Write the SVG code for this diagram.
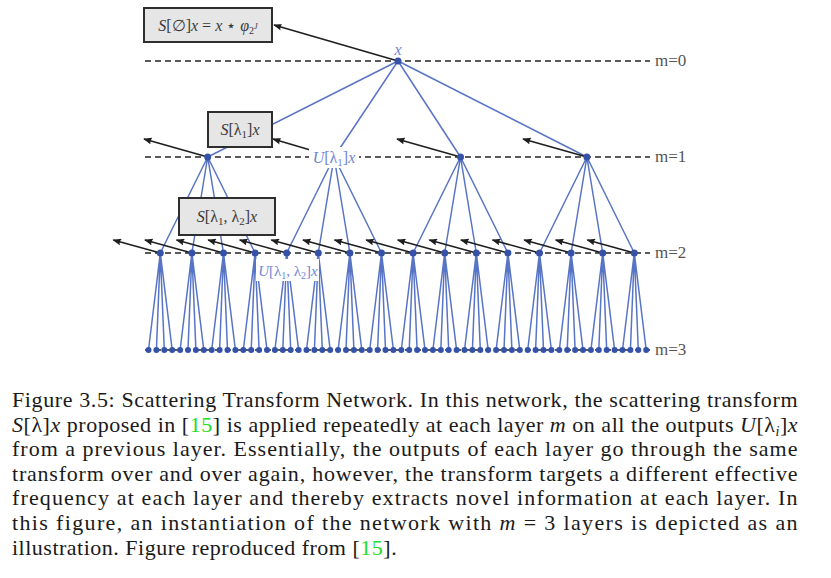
<svg xmlns="http://www.w3.org/2000/svg" width="831" height="578" viewBox="0 0 831 578">
<style>
.dash{stroke:#5a5a5a;stroke-width:1.8;stroke-dasharray:6 4;fill:none}
.bl{stroke:#5874c4;stroke-width:1.5;fill:none}
.arr{stroke:#1e1e1e;stroke-width:1.6;fill:none;marker-end:url(#ah)}
.nd{fill:#3552a8}
.lf{fill:#3552a8}
.box{fill:#e6e6e6;stroke:#2e2e2e;stroke-width:2}
.bt{font-family:"Liberation Serif","DejaVu Serif",serif;font-size:16px;fill:#3a3a3a;text-anchor:middle}
.ml{font-family:"Liberation Serif","DejaVu Serif",serif;font-size:17px;fill:#555}
.ul{font-family:"Liberation Serif","DejaVu Serif",serif;font-size:16px;fill:#7086d4;text-anchor:middle}
.it{font-style:italic}
.cap{font-family:"Liberation Serif","DejaVu Serif",serif;font-size:22px;letter-spacing:0.5px;fill:#1a1a1a}
.ref{fill:#22dd22}
</style>
<defs>
<marker id="ah" viewBox="0 0 10 8" refX="9" refY="4" markerWidth="9" markerHeight="7" markerUnits="userSpaceOnUse" orient="auto">
<path d="M0,0 L10,4 L0,8 Q2.5,4 0,0 z" fill="#1e1e1e"/>
</marker>
</defs>

<g id="levels">
<line class="dash" x1="145" y1="61" x2="650" y2="61"/>
<line class="dash" x1="145" y1="157" x2="650" y2="157"/>
<line class="dash" x1="145" y1="253" x2="650" y2="253"/>
<line class="dash" x1="145" y1="350" x2="650" y2="350"/>
<text class="ml" x="655" y="66">m=0</text>
<text class="ml" x="655" y="162">m=1</text>
<text class="ml" x="655" y="258">m=2</text>
<text class="ml" x="655" y="355">m=3</text>
</g>

<g id="connectors">
<path class="bl" d="M398,61 L207.7,157 M398,61 L334.1,157 M398,61 L460.5,157 M398,61 L586.9,157"/>
<path class="bl" d="M207.7,157 L160.3,253 M207.7,157 L191.9,253 M207.7,157 L223.5,253 M207.7,157 L255.1,253"/>
<path class="bl" d="M334.1,157 L286.7,253 M334.1,157 L318.3,253 M334.1,157 L349.9,253 M334.1,157 L381.5,253"/>
<path class="bl" d="M460.5,157 L413.1,253 M460.5,157 L444.7,253 M460.5,157 L476.3,253 M460.5,157 L507.9,253"/>
<path class="bl" d="M586.9,157 L539.5,253 M586.9,157 L571.1,253 M586.9,157 L602.7,253 M586.9,157 L634.3,253"/>
<path class="bl" d="M160.3,253 L148.5,350 M160.3,253 L156.4,350 M160.3,253 L164.3,350 M160.3,253 L172.2,350"/>
<path class="bl" d="M191.9,253 L180.1,350 M191.9,253 L188,350 M191.9,253 L195.9,350 M191.9,253 L203.8,350"/>
<path class="bl" d="M223.5,253 L211.7,350 M223.5,253 L219.6,350 M223.5,253 L227.5,350 M223.5,253 L235.4,350"/>
<path class="bl" d="M255.1,253 L243.3,350 M255.1,253 L251.2,350 M255.1,253 L259.1,350 M255.1,253 L267,350"/>
<path class="bl" d="M286.7,253 L274.9,350 M286.7,253 L282.8,350 M286.7,253 L290.7,350 M286.7,253 L298.6,350"/>
<path class="bl" d="M318.3,253 L306.5,350 M318.3,253 L314.4,350 M318.3,253 L322.3,350 M318.3,253 L330.2,350"/>
<path class="bl" d="M349.9,253 L338.1,350 M349.9,253 L346,350 M349.9,253 L353.9,350 M349.9,253 L361.8,350"/>
<path class="bl" d="M381.5,253 L369.7,350 M381.5,253 L377.6,350 M381.5,253 L385.5,350 M381.5,253 L393.4,350"/>
<path class="bl" d="M413.1,253 L401.3,350 M413.1,253 L409.2,350 M413.1,253 L417.1,350 M413.1,253 L425,350"/>
<path class="bl" d="M444.7,253 L432.9,350 M444.7,253 L440.8,350 M444.7,253 L448.7,350 M444.7,253 L456.6,350"/>
<path class="bl" d="M476.3,253 L464.5,350 M476.3,253 L472.4,350 M476.3,253 L480.3,350 M476.3,253 L488.2,350"/>
<path class="bl" d="M507.9,253 L496.1,350 M507.9,253 L504,350 M507.9,253 L511.9,350 M507.9,253 L519.8,350"/>
<path class="bl" d="M539.5,253 L527.7,350 M539.5,253 L535.6,350 M539.5,253 L543.5,350 M539.5,253 L551.4,350"/>
<path class="bl" d="M571.1,253 L559.3,350 M571.1,253 L567.2,350 M571.1,253 L575.1,350 M571.1,253 L583,350"/>
<path class="bl" d="M602.7,253 L590.9,350 M602.7,253 L598.8,350 M602.7,253 L606.7,350 M602.7,253 L614.6,350"/>
<path class="bl" d="M634.3,253 L622.5,350 M634.3,253 L630.4,350 M634.3,253 L638.3,350 M634.3,253 L646.2,350"/>
<line class="arr" x1="398" y1="61" x2="274" y2="25"/>
<line class="arr" x1="207.7" y1="157" x2="144" y2="139"/>
<line class="arr" x1="334.1" y1="157" x2="273" y2="139"/>
<line class="arr" x1="460.5" y1="157" x2="397" y2="139"/>
<line class="arr" x1="586.9" y1="157" x2="523" y2="139"/>
<line class="arr" x1="160.3" y1="253" x2="113.3" y2="240"/>
<line class="arr" x1="191.9" y1="253" x2="144.9" y2="240"/>
<line class="arr" x1="223.5" y1="253" x2="176.5" y2="240"/>
<line class="arr" x1="255.1" y1="253" x2="208.1" y2="240"/>
<line class="arr" x1="286.7" y1="253" x2="239.7" y2="240"/>
<line class="arr" x1="318.3" y1="253" x2="271.3" y2="240"/>
<line class="arr" x1="349.9" y1="253" x2="302.9" y2="240"/>
<line class="arr" x1="381.5" y1="253" x2="334.5" y2="240"/>
<line class="arr" x1="413.1" y1="253" x2="366.1" y2="240"/>
<line class="arr" x1="444.7" y1="253" x2="397.7" y2="240"/>
<line class="arr" x1="476.3" y1="253" x2="429.3" y2="240"/>
<line class="arr" x1="507.9" y1="253" x2="460.9" y2="240"/>
<line class="arr" x1="539.5" y1="253" x2="492.5" y2="240"/>
<line class="arr" x1="571.1" y1="253" x2="524.1" y2="240"/>
<line class="arr" x1="602.7" y1="253" x2="555.7" y2="240"/>
<line class="arr" x1="634.3" y1="253" x2="587.3" y2="240"/>
</g>

<g id="root"><circle class="nd" cx="398" cy="61" r="3.5"/><text class="ul it" x="398" y="55">x</text></g>
<g id="m1-a"><circle class="nd" cx="207.7" cy="157" r="3.5"/></g>
<g id="m1-b"><rect x="309" y="147" width="50" height="21" fill="#fff"/><text class="ul" x="334" y="163"><tspan class="it">U</tspan>[λ<tspan font-size="11" dy="3">1</tspan><tspan dy="-3">]</tspan><tspan class="it">x</tspan></text></g>
<g id="m1-c"><circle class="nd" cx="460.5" cy="157" r="3.5"/></g>
<g id="m1-d"><circle class="nd" cx="586.9" cy="157" r="3.5"/></g>

<g id="m2-0"><circle class="nd" cx="160.3" cy="253" r="3.5"/></g>
<g id="m2-1"><circle class="nd" cx="191.9" cy="253" r="3.5"/></g>
<g id="m2-2"><circle class="nd" cx="223.5" cy="253" r="3.5"/></g>
<g id="m2-3"><circle class="nd" cx="255.1" cy="253" r="3.5"/></g>
<g id="m2-4"><circle class="nd" cx="286.7" cy="253" r="3.5"/></g>
<g id="m2-5"><circle class="nd" cx="318.3" cy="253" r="3.5"/></g>
<g id="m2-6"><circle class="nd" cx="349.9" cy="253" r="3.5"/></g>
<g id="m2-7"><circle class="nd" cx="381.5" cy="253" r="3.5"/></g>
<g id="m2-8"><circle class="nd" cx="413.1" cy="253" r="3.5"/></g>
<g id="m2-9"><circle class="nd" cx="444.7" cy="253" r="3.5"/></g>
<g id="m2-10"><circle class="nd" cx="476.3" cy="253" r="3.5"/></g>
<g id="m2-11"><circle class="nd" cx="507.9" cy="253" r="3.5"/></g>
<g id="m2-12"><circle class="nd" cx="539.5" cy="253" r="3.5"/></g>
<g id="m2-13"><circle class="nd" cx="571.1" cy="253" r="3.5"/></g>
<g id="m2-14"><circle class="nd" cx="602.7" cy="253" r="3.5"/></g>
<g id="m2-15"><circle class="nd" cx="634.3" cy="253" r="3.5"/></g>

<g id="m2-label"><rect x="256" y="259" width="63" height="22" fill="#fff"/><text class="ul" x="288" y="276" style="font-size:15px"><tspan class="it">U</tspan>[λ<tspan font-size="10" dy="3">1</tspan><tspan dy="-3">, λ</tspan><tspan font-size="10" dy="3">2</tspan><tspan dy="-3">]</tspan><tspan class="it">x</tspan></text></g>

<g id="leaves">
<g id="l0"><circle class="lf" cx="148.5" cy="350" r="3"/></g><g id="l1"><circle class="lf" cx="156.4" cy="350" r="3"/></g><g id="l2"><circle class="lf" cx="164.3" cy="350" r="3"/></g><g id="l3"><circle class="lf" cx="172.2" cy="350" r="3"/></g>
<g id="l4"><circle class="lf" cx="180.1" cy="350" r="3"/></g><g id="l5"><circle class="lf" cx="188" cy="350" r="3"/></g><g id="l6"><circle class="lf" cx="195.9" cy="350" r="3"/></g><g id="l7"><circle class="lf" cx="203.8" cy="350" r="3"/></g>
<g id="l8"><circle class="lf" cx="211.7" cy="350" r="3"/></g><g id="l9"><circle class="lf" cx="219.6" cy="350" r="3"/></g><g id="l10"><circle class="lf" cx="227.5" cy="350" r="3"/></g><g id="l11"><circle class="lf" cx="235.4" cy="350" r="3"/></g>
<g id="l12"><circle class="lf" cx="243.3" cy="350" r="3"/></g><g id="l13"><circle class="lf" cx="251.2" cy="350" r="3"/></g><g id="l14"><circle class="lf" cx="259.1" cy="350" r="3"/></g><g id="l15"><circle class="lf" cx="267" cy="350" r="3"/></g>
<g id="l16"><circle class="lf" cx="274.9" cy="350" r="3"/></g><g id="l17"><circle class="lf" cx="282.8" cy="350" r="3"/></g><g id="l18"><circle class="lf" cx="290.7" cy="350" r="3"/></g><g id="l19"><circle class="lf" cx="298.6" cy="350" r="3"/></g>
<g id="l20"><circle class="lf" cx="306.5" cy="350" r="3"/></g><g id="l21"><circle class="lf" cx="314.4" cy="350" r="3"/></g><g id="l22"><circle class="lf" cx="322.3" cy="350" r="3"/></g><g id="l23"><circle class="lf" cx="330.2" cy="350" r="3"/></g>
<g id="l24"><circle class="lf" cx="338.1" cy="350" r="3"/></g><g id="l25"><circle class="lf" cx="346" cy="350" r="3"/></g><g id="l26"><circle class="lf" cx="353.9" cy="350" r="3"/></g><g id="l27"><circle class="lf" cx="361.8" cy="350" r="3"/></g>
<g id="l28"><circle class="lf" cx="369.7" cy="350" r="3"/></g><g id="l29"><circle class="lf" cx="377.6" cy="350" r="3"/></g><g id="l30"><circle class="lf" cx="385.5" cy="350" r="3"/></g><g id="l31"><circle class="lf" cx="393.4" cy="350" r="3"/></g>
<g id="l32"><circle class="lf" cx="401.3" cy="350" r="3"/></g><g id="l33"><circle class="lf" cx="409.2" cy="350" r="3"/></g><g id="l34"><circle class="lf" cx="417.1" cy="350" r="3"/></g><g id="l35"><circle class="lf" cx="425" cy="350" r="3"/></g>
<g id="l36"><circle class="lf" cx="432.9" cy="350" r="3"/></g><g id="l37"><circle class="lf" cx="440.8" cy="350" r="3"/></g><g id="l38"><circle class="lf" cx="448.7" cy="350" r="3"/></g><g id="l39"><circle class="lf" cx="456.6" cy="350" r="3"/></g>
<g id="l40"><circle class="lf" cx="464.5" cy="350" r="3"/></g><g id="l41"><circle class="lf" cx="472.4" cy="350" r="3"/></g><g id="l42"><circle class="lf" cx="480.3" cy="350" r="3"/></g><g id="l43"><circle class="lf" cx="488.2" cy="350" r="3"/></g>
<g id="l44"><circle class="lf" cx="496.1" cy="350" r="3"/></g><g id="l45"><circle class="lf" cx="504" cy="350" r="3"/></g><g id="l46"><circle class="lf" cx="511.9" cy="350" r="3"/></g><g id="l47"><circle class="lf" cx="519.8" cy="350" r="3"/></g>
<g id="l48"><circle class="lf" cx="527.7" cy="350" r="3"/></g><g id="l49"><circle class="lf" cx="535.6" cy="350" r="3"/></g><g id="l50"><circle class="lf" cx="543.5" cy="350" r="3"/></g><g id="l51"><circle class="lf" cx="551.4" cy="350" r="3"/></g>
<g id="l52"><circle class="lf" cx="559.3" cy="350" r="3"/></g><g id="l53"><circle class="lf" cx="567.2" cy="350" r="3"/></g><g id="l54"><circle class="lf" cx="575.1" cy="350" r="3"/></g><g id="l55"><circle class="lf" cx="583" cy="350" r="3"/></g>
<g id="l56"><circle class="lf" cx="590.9" cy="350" r="3"/></g><g id="l57"><circle class="lf" cx="598.8" cy="350" r="3"/></g><g id="l58"><circle class="lf" cx="606.7" cy="350" r="3"/></g><g id="l59"><circle class="lf" cx="614.6" cy="350" r="3"/></g>
<g id="l60"><circle class="lf" cx="622.5" cy="350" r="3"/></g><g id="l61"><circle class="lf" cx="630.4" cy="350" r="3"/></g><g id="l62"><circle class="lf" cx="638.3" cy="350" r="3"/></g><g id="l63"><circle class="lf" cx="646.2" cy="350" r="3"/></g>
</g>

<g id="box-s0"><rect class="box" x="144" y="8" width="128" height="34"/><text class="bt" x="208" y="31"><tspan class="it">S</tspan>[∅]<tspan class="it">x</tspan> = <tspan class="it">x</tspan> ⋆ <tspan class="it">φ</tspan><tspan font-size="10" dy="3">2</tspan><tspan class="it" font-size="8" dy="-5">J</tspan></text></g>
<g id="box-s1"><rect class="box" x="208" y="112" width="64" height="35"/><text class="bt" x="240" y="135"><tspan class="it">S</tspan>[λ<tspan font-size="11" dy="3">1</tspan><tspan dy="-3">]</tspan><tspan class="it">x</tspan></text></g>
<g id="box-s2"><rect class="box" x="179" y="198" width="96" height="37"/><text class="bt" x="227" y="222"><tspan class="it">S</tspan>[λ<tspan font-size="11" dy="3">1</tspan><tspan dy="-3">, λ</tspan><tspan font-size="11" dy="3">2</tspan><tspan dy="-3">]</tspan><tspan class="it">x</tspan></text></g>

<g id="caption">
<text class="cap" x="12" y="407" textLength="786" lengthAdjust="spacing">Figure 3.5: Scattering Transform Network. In this network, the scattering transform</text>
<text class="cap" x="12" y="431.6" textLength="786" lengthAdjust="spacing"><tspan class="it">S</tspan>[λ]<tspan class="it">x</tspan> proposed in [<tspan class="ref">15</tspan>] is applied repeatedly at each layer <tspan class="it">m</tspan> on all the outputs <tspan class="it">U</tspan>[λ<tspan class="it" font-size="14" dy="4">i</tspan><tspan dy="-4">]</tspan><tspan class="it">x</tspan></text>
<text class="cap" x="12" y="456.2" textLength="786" lengthAdjust="spacing">from a previous layer. Essentially, the outputs of each layer go through the same</text>
<text class="cap" x="12" y="480.8" textLength="786" lengthAdjust="spacing">transform over and over again, however, the transform targets a different effective</text>
<text class="cap" x="12" y="505.4" textLength="786" lengthAdjust="spacing">frequency at each layer and thereby extracts novel information at each layer. In</text>
<text class="cap" x="12" y="530" textLength="786" lengthAdjust="spacing">this figure, an instantiation of the network with <tspan class="it">m</tspan> = 3 layers is depicted as an</text>
<text class="cap" x="12" y="554.6">illustration. Figure reproduced from [<tspan class="ref">15</tspan>].</text>
</g>
</svg>
